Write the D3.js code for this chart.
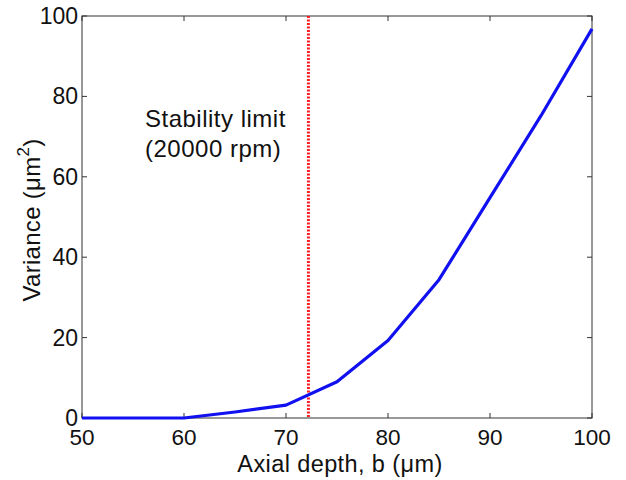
<!DOCTYPE html>
<html lang="en">
<head>
  <meta charset="UTF-8">
  <title>Variance vs axial depth</title>
  <style>
    body { margin: 0; background: #fff; }
    text { font-family: "Liberation Sans", Arial, sans-serif; fill: #111; }
  </style>
</head>
<body>

  <svg id="svg" width="626" height="480"></svg>

  <script src="https://cdn.jsdelivr.net/npm/d3@7"></script>
  <script>
    // data
    const depth = [50, 55, 60, 65, 70, 75, 80, 85, 90, 95, 100];
    const variance = [0, 0, 0, 1.5, 3.2, 9.0, 19.3, 34.4, 54.8, 75.2, 96.8];
    const stabilityLimit = 72.2;
    const xTicks = [50, 60, 70, 80, 90, 100];
    const yTicks = [0, 20, 40, 60, 80, 100];

    const svg = d3.select('#svg');
    const plotL = 82, plotR = 592, plotT = 16, plotB = 418;

    const x = d3.scaleLinear().domain([50, 100]).range([plotL, plotR]);
    const y = d3.scaleLinear().domain([0, 100]).range([plotB, plotT]);

    // box
    svg.append('rect')
      .attr('x', plotL).attr('y', plotT)
      .attr('width', plotR - plotL).attr('height', plotB - plotT)
      .attr('fill', 'none').attr('stroke', '#333').attr('stroke-width', 1);

    // inward ticks on all sides (matlab style)
    const tl = 5;
    const g = svg.append('g').attr('stroke', '#333').attr('stroke-width', 1);
    xTicks.forEach(t => {
      g.append('line').attr('x1', x(t)).attr('x2', x(t)).attr('y1', plotB).attr('y2', plotB - tl);
      g.append('line').attr('x1', x(t)).attr('x2', x(t)).attr('y1', plotT).attr('y2', plotT + tl);
    });
    yTicks.forEach(t => {
      g.append('line').attr('x1', plotL).attr('x2', plotL + tl).attr('y1', y(t)).attr('y2', y(t));
      g.append('line').attr('x1', plotR).attr('x2', plotR - tl).attr('y1', y(t)).attr('y2', y(t));
    });

    // tick labels
    svg.append('g').selectAll('text').data(xTicks).enter().append('text')
      .attr('x', d => x(d)).attr('y', plotB + 27)
      .attr('text-anchor', 'middle').attr('font-size', 22.5)
      .text(d => d);
    svg.append('g').selectAll('text').data(yTicks).enter().append('text')
      .attr('x', plotL - 4).attr('y', d => y(d) + 8)
      .attr('text-anchor', 'end').attr('font-size', 23)
      .text(d => d);

    // axis labels
    svg.append('text')
      .attr('x', (plotL + plotR) / 2 + 3).attr('y', 472)
      .attr('text-anchor', 'middle').attr('font-size', 23.5)
      .attr('letter-spacing', 0.4)
      .text('Axial depth, b (\u03bcm)');

    const yl = svg.append('text')
      .attr('transform', 'translate(40,220) rotate(-90)')
      .attr('text-anchor', 'middle').attr('font-size', 24)
      .attr('letter-spacing', 0.3);
    yl.append('tspan').text('Variance (\u03bcm');
    yl.append('tspan').attr('dy', -11).attr('font-size', 17).text('2');
    yl.append('tspan').attr('dy', 11).text(')');

    // stability limit
    svg.append('line')
      .attr('x1', x(stabilityLimit)).attr('x2', x(stabilityLimit))
      .attr('y1', plotT).attr('y2', plotB)
      .attr('stroke', '#ff1c24').attr('stroke-width', 3)
      .attr('stroke-dasharray', '2,1.5');

    svg.append('text').attr('x', 145).attr('y', 127).attr('font-size', 24)
      .attr('letter-spacing', 0.5).text('Stability limit');
    svg.append('text').attr('x', 145).attr('y', 157).attr('font-size', 24)
      .attr('letter-spacing', 0.5).text('(20000 rpm)');

    // variance curve
    const line = d3.line().x((d, i) => x(depth[i])).y(d => y(d));
    svg.append('path')
      .datum(variance)
      .attr('d', line)
      .attr('fill', 'none')
      .attr('stroke', '#1010f0')
      .attr('stroke-width', 3.2)
      .attr('stroke-linejoin', 'round');
  </script>
</body>
</html>
